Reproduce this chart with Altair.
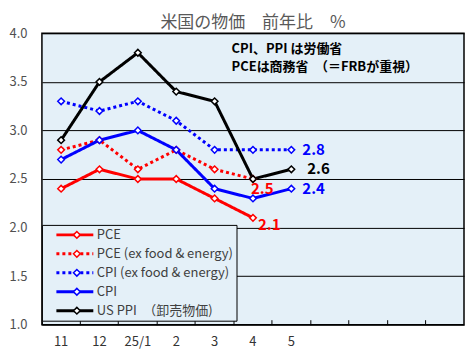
import altair as alt
import pandas as pd

FONT = "Noto Sans CJK JP"

months = ["11", "12", "25/1", "2", "3", "4", "5"]
blank_months = ["6", "7", "8", "9"]
series_names = ["PCE", "PCE (ex food & energy)", "CPI (ex food & energy)", "CPI", "US PPI　（卸売物価)"]
pce = [2.4, 2.6, 2.5, 2.5, 2.3, 2.1, None]
pce_core = [2.8, 2.9, 2.6, 2.8, 2.6, 2.5, None]
cpi_core = [3.3, 3.2, 3.3, 3.1, 2.8, 2.8, 2.8]
cpi = [2.7, 2.9, 3.0, 2.8, 2.4, 2.3, 2.4]
ppi = [2.9, 3.5, 3.8, 3.4, 3.3, 2.5, 2.6]
series_colors = ["#ff0000", "#ff0000", "#0000ff", "#0000ff", "#000000"]
series_dash = [[1, 0], [3, 3], [3, 3], [1, 0], [1, 0]]
note_lines = ["CPI、PPI は労働省", "PCEは商務省　（＝FRBが重視）"]
title_text = "米国の物価　前年比　%"

values = [pce, pce_core, cpi_core, cpi, ppi]
marker_keys = [f"m{i}" for i in range(len(series_names))]
rows = []
for name, mk, vals in zip(series_names, marker_keys, values):
    for m, v in zip(months, vals):
        if v is not None:
            rows.append({"month": m, "value": v, "series": name, "marker": mk})
df = pd.DataFrame(rows)

domain_x = months + blank_months
W, H = 423, 292

xscale = alt.Scale(type="band", domain=domain_x, paddingInner=0, paddingOuter=0)
yscale = alt.Scale(domain=[1.0, 4.0], nice=False, zero=False)
color_scale = alt.Scale(domain=series_names, range=series_colors)
dash_scale = alt.Scale(domain=series_names, range=series_dash)
marker_scale = alt.Scale(domain=marker_keys, range=series_colors)

label_expr = "indexof(" + str(months).replace(" ", "") + ", datum.value) >= 0 ? datum.label : ''"

x_bottom = alt.X("month:N", scale=xscale, sort=domain_x, title=None,
                 axis=alt.Axis(orient="bottom", labelAngle=0, labelExpr=label_expr,
                               labelFont=FONT, labelFontSize=13, labelColor="#333333",
                               ticks=False, tickSize=0, labelPadding=11, domain=False, grid=False))
x_top = alt.X("month:N", scale=xscale, sort=domain_x, title=None,
              axis=alt.Axis(orient="top", offset=-H, bandPosition=0, labels=False,
                            ticks=True, tickSize=5, tickColor="black", tickWidth=1,
                            domain=False, grid=False, title=None))
y_enc = alt.Y("value:Q", scale=yscale, title=None,
              axis=alt.Axis(values=[1.0, 1.5, 2.0, 2.5, 3.0, 3.5, 4.0], format=".1f",
                            labelFont=FONT, labelFontSize=13, labelColor="#505050",
                            ticks=False, tickSize=0, labelPadding=15, domain=False,
                            grid=True, gridColor="black", gridWidth=1, gridOpacity=1))

line_legend = alt.Legend(title=None, orient="none", legendX=0, legendY=192,
                         symbolType="stroke", symbolSize=1369, symbolStrokeWidth=3,
                         symbolOffset=10, labelFont=FONT, labelFontSize=13,
                         labelColor="#404040", labelOffset=2, fillColor="#e4f0f8",
                         strokeColor="black", padding=3, clipHeight=14, rowPadding=5)
pt_legend = alt.Legend(title=None, orient="none", legendX=0, legendY=192,
                       symbolType="diamond", symbolSize=45, symbolStrokeWidth=1.5,
                       symbolFillColor="white", symbolOffset=25.5, labelFont=FONT,
                       labelFontSize=13, labelExpr="''", padding=3, clipHeight=14,
                       rowPadding=5)

lines = alt.Chart(df).mark_line(strokeWidth=3).encode(
    x=x_bottom, y=y_enc,
    color=alt.Color("series:N", scale=color_scale, legend=line_legend),
    strokeDash=alt.StrokeDash("series:N", scale=dash_scale, legend=line_legend),
    order=alt.Order("month_idx:Q"),
).transform_calculate(month_idx="indexof(" + str(domain_x).replace(" ", "") + ", datum.month)")

points = alt.Chart(df).mark_point(shape="diamond", filled=False, fill="white",
                                  size=45, strokeWidth=1.5, opacity=1).encode(
    x=x_top, y=alt.Y("value:Q", scale=yscale),
    stroke=alt.Stroke("marker:N", scale=marker_scale, legend=pt_legend),
)

label_style = {
    "PCE": (5, 7),
    "PCE (ex food & energy)": (-2, 10),
    "CPI (ex food & energy)": (11, 0),
    "CPI": (11, 0),
    "US PPI　（卸売物価)": (16, 0),
}
end_rows = []
for name, vals, col in zip(series_names, values, series_colors):
    idx = max(i for i, v in enumerate(vals) if v is not None)
    end_rows.append({"month": months[idx], "value": vals[idx], "series": name,
                     "label": f"{vals[idx]:.1f}", "col": col})
end_df = pd.DataFrame(end_rows)

texts = []
for r in end_rows:
    dx, dy = label_style[r["series"]]
    t = alt.Chart(end_df).transform_filter(alt.datum.series == r["series"]).mark_text(
        align="left", baseline="middle", dx=dx, dy=dy, font=FONT, fontSize=15,
        fontWeight="bold", color=r["col"]).encode(
        x=alt.X("month:N", scale=xscale, sort=domain_x, axis=None),
        y=alt.Y("value:Q", scale=yscale), text="label:N")
    texts.append(t)

note = alt.Chart(pd.DataFrame({"t": [0]})).mark_text(
    align="left", baseline="middle", font=FONT, fontSize=13, fontWeight="bold",
    color="black", lineHeight=18).encode(
    x=alt.value(190), y=alt.value(16), text=alt.value(note_lines))

chart = alt.layer(lines, points, *texts, note).resolve_axis(x="independent").properties(
    width=W, height=H,
    title=alt.TitleParams(title_text, font=FONT, fontSize=17, fontWeight="normal",
                          color="#595959", anchor="middle", offset=6, dy=11),
    autosize=alt.AutoSizeParams(type="none"),
    padding={"left": 34, "top": 25, "right": 2, "bottom": 25},
    background="white",
).configure_view(fill="#e4f0f8", stroke="black", strokeWidth=1.5)

chart.save("out.html", embed_options={"renderer": "svg", "actions": False})
